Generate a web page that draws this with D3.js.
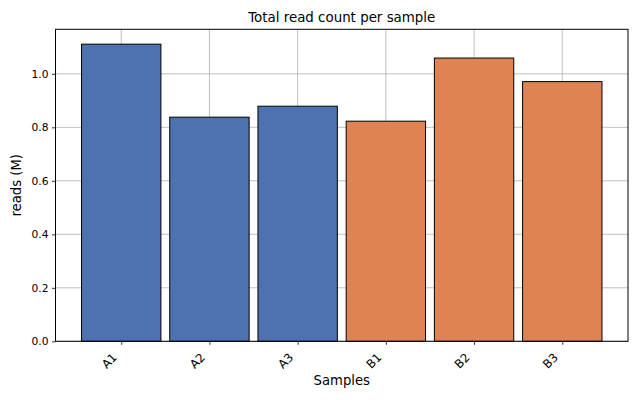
<!DOCTYPE html>
<html>
<head>
<meta charset="utf-8">
<script src="https://cdn.jsdelivr.net/npm/d3@7"></script>
<style>
  body { margin: 0; background: #fff; }
  text { font-family: "DejaVu Sans", sans-serif; fill: #000; }
</style>
</head>
<body>
<script>
// Chart size
var w = 640;
var h = 400;

// Data
var samples = ["A1", "A2", "A3", "B1", "B2", "B3"];
var groups = ["A", "A", "A", "B", "B", "B"];
var reads = [1.111, 0.838, 0.879, 0.823, 1.059, 0.971];
var yTicks = [0.0, 0.2, 0.4, 0.6, 0.8, 1.0];

// Group colours
var groupColor = { A: "#4c72b0", B: "#dd8452" };

// Plot area (matplotlib style)
var plotL = 55.5, plotR = 628, plotT = 29.3, plotB = 341.3;

var svg = d3.select("body")
    .append("svg")
    .attr("width", w)
    .attr("height", h);

// x: index scale with the same margins matplotlib puts round bars
var x = d3.scaleLinear()
    .domain([-0.745, samples.length - 1 + 0.745])
    .range([plotL, plotR]);

var y = d3.scaleLinear()
    .domain([0, d3.max(reads) * 1.05])
    .range([plotB, plotT]);

var barW = x(0.9) - x(0);

// Grid lines first so bars sit over them
var grid = svg.append("g").attr("stroke", "#b0b0b0").attr("stroke-width", 0.8);
grid.selectAll("line.h")
    .data(yTicks)
    .enter().append("line")
    .attr("x1", plotL).attr("x2", plotR)
    .attr("y1", function(d) { return y(d); })
    .attr("y2", function(d) { return y(d); });
grid.selectAll("line.v")
    .data(samples)
    .enter().append("line")
    .attr("y1", plotT).attr("y2", plotB)
    .attr("x1", function(d, i) { return x(i); })
    .attr("x2", function(d, i) { return x(i); });

// Bars
svg.selectAll("rect.bar")
    .data(reads)
    .enter().append("rect")
    .attr("class", "bar")
    .attr("x", function(d, i) { return x(i) - barW / 2; })
    .attr("width", barW)
    .attr("y", function(d) { return y(d); })
    .attr("height", function(d) { return y(0) - y(d); })
    .attr("fill", function(d, i) { return groupColor[groups[i]]; })
    .attr("stroke", "#000")
    .attr("stroke-width", 1);

// Axes
var yAxis = svg.append("g")
    .attr("transform", "translate(" + plotL + ",0)")
    .call(d3.axisLeft(y).tickValues(yTicks).tickFormat(d3.format(".1f")).tickSize(3.5).tickPadding(3.5));

var xAxis = svg.append("g")
    .attr("transform", "translate(0," + plotB + ")")
    .call(d3.axisBottom(x).tickValues(d3.range(samples.length))
        .tickFormat(function(i) { return samples[i]; }).tickSize(3.5).tickPadding(3.5));

[xAxis, yAxis].forEach(function(a) {
    a.select(".domain").remove();
    a.selectAll("line").attr("stroke", "#000").attr("stroke-width", 0.8);
    a.selectAll("text").style("font-family", "DejaVu Sans").attr("font-size", 10.7);
});

// rotated tick labels, right end tucked under the tick
xAxis.selectAll("text")
    .attr("font-size", 11.8)
    .attr("text-anchor", "end")
    .attr("x", 0).attr("y", 0)
    .attr("dy", "0.35em")
    .attr("transform", "translate(-7,14) rotate(-45)");

// Frame
svg.append("rect")
    .attr("x", plotL).attr("y", plotT)
    .attr("width", plotR - plotL).attr("height", plotB - plotT)
    .attr("fill", "none")
    .attr("stroke", "#000")
    .attr("stroke-width", 1);

// Labels
svg.append("text")
    .attr("x", (plotL + plotR) / 2)
    .attr("y", 22)
    .attr("text-anchor", "middle")
    .attr("font-size", 13.4)
    .text("Total read count per sample");

svg.append("text")
    .attr("x", (plotL + plotR) / 2)
    .attr("y", 385)
    .attr("text-anchor", "middle")
    .attr("font-size", 13.2)
    .text("Samples");

svg.append("text")
    .attr("transform", "translate(20.5," + ((plotT + plotB) / 2) + ") rotate(-90)")
    .attr("text-anchor", "middle")
    .attr("font-size", 13.2)
    .text("reads (M)");
</script>
</body>
</html>
